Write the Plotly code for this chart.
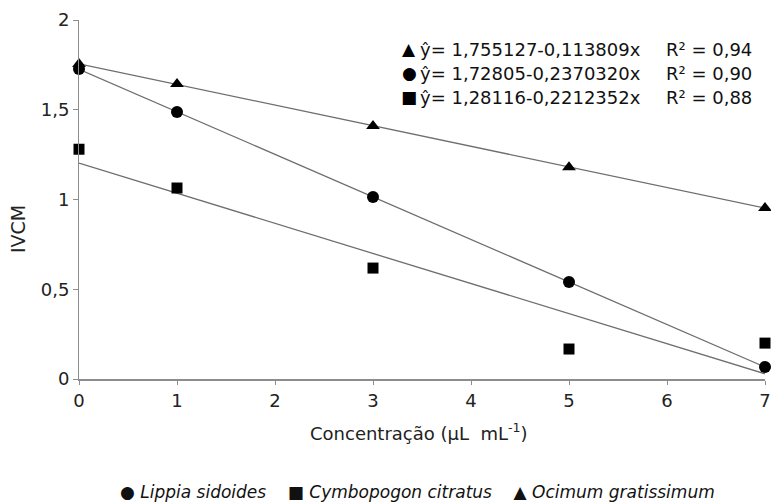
import numpy as np
import plotly.graph_objects as go

concentracao = [0, 1, 3, 5, 7]
lippia = [1.727, 1.487, 1.014, 0.540, 0.067]
cymbopogon = [1.280, 1.064, 0.618, 0.167, 0.200]
ocimum = [1.755, 1.643, 1.410, 1.180, 0.953]

x_ticks = [0, 1, 2, 3, 4, 5, 6, 7]
y_ticks = [0, 0.5, 1, 1.5, 2]
y_ticktext = ["0", "0,5", "1", "1,5", "2"]

equations = [
    ("▲", "ŷ= 1,755127-0,113809x", "R² = 0,94"),
    ("●", "ŷ= 1,72805-0,2370320x", "R² = 0,90"),
    ("■", "ŷ= 1,28116-0,2212352x", "R² = 0,88"),
]

FONT = "DejaVu Sans, sans-serif"
LINE_C = "#6e6e6e"
AX_C = "#8c8c8c"

W, H = 771, 504
L, R, T, B = 79, 765, 20, 379


def px(xp):
    return (xp - L) / (R - L)


def py(yp):
    return (B - yp) / (B - T)


fig = go.Figure()

series = [
    (ocimum, "triangle-up", 12),
    (lippia, "circle", 12),
    (cymbopogon, "square", 11),
]
xs = np.array(concentracao, dtype=float)
xline = np.array([xs.min(), xs.max()])
for ys, sym, sz in series:
    b, a = np.polyfit(xs, np.array(ys), 1)
    fig.add_trace(go.Scatter(x=xline, y=a + b * xline, mode="lines",
                             line=dict(color=LINE_C, width=1.3),
                             showlegend=False, cliponaxis=False, hoverinfo="skip"))
for ys, sym, sz in series:
    fig.add_trace(go.Scatter(x=concentracao, y=ys, mode="markers",
                             marker=dict(symbol=sym, size=sz, color="black"),
                             showlegend=False, cliponaxis=False))

fig.update_layout(
    width=W, height=H,
    margin=dict(l=L, r=W - R, t=T, b=H - B, autoexpand=False),
    paper_bgcolor="white", plot_bgcolor="white",
    font=dict(family=FONT, size=18, color="#222"),
    xaxis=dict(range=[0, 7], tickvals=x_ticks, ticktext=[str(v) for v in x_ticks],
               automargin=False,
               showgrid=False, zeroline=False, showline=True, linecolor=AX_C, linewidth=2,
               ticks="outside", ticklen=4, tickcolor=AX_C, tickwidth=1,
               tickfont=dict(size=18, color="#222")),
    yaxis=dict(range=[0, 2], tickvals=y_ticks, ticktext=y_ticktext,
               automargin=False,
               showgrid=False, zeroline=False, showline=True, linecolor=AX_C, linewidth=1,
               ticks="outside", ticklen=5, tickcolor=AX_C,
               tickfont=dict(size=18, color="#222")),
)

ann = []
ann.append(dict(text="IVCM", xref="paper", yref="paper", x=px(18), y=py(229),
                textangle=-90, showarrow=False, font=dict(size=19, color="#222"),
                xanchor="center", yanchor="middle"))
ann.append(dict(text="Concentração (µL  mL<sup>-1</sup>)", xref="paper", yref="paper",
                x=px(419), y=py(432), showarrow=False, xanchor="center", yanchor="middle",
                font=dict(size=18, color="#222")))
ann.append(dict(text="● <i>Lippia sidoides</i>    ■ <i>Cymbopogon citratus</i>    ▲ <i>Ocimum gratissimum</i>",
                xref="paper", yref="paper", x=px(417), y=py(492), showarrow=False,
                xanchor="center", yanchor="middle", font=dict(size=17, color="#111")))
row_y = [49, 73, 97]
for (sym, eq, r2), yy in zip(equations, row_y):
    ann.append(dict(text=sym, xref="paper", yref="paper", x=px(409), y=py(yy),
                    showarrow=False, xanchor="center", yanchor="middle",
                    font=dict(size=17, color="black")))
    ann.append(dict(text=eq, xref="paper", yref="paper", x=px(418), y=py(yy),
                    showarrow=False, xanchor="left", yanchor="middle",
                    font=dict(size=18, color="#111")))
    ann.append(dict(text=r2, xref="paper", yref="paper", x=px(664), y=py(yy),
                    showarrow=False, xanchor="left", yanchor="middle",
                    font=dict(size=18, color="#111")))
fig.update_layout(annotations=ann)

fig.write_html(
    "out.html",
    config={"displayModeBar": False},
    post_script="document.body.style.margin='0';document.body.style.overflow='hidden';",
)
